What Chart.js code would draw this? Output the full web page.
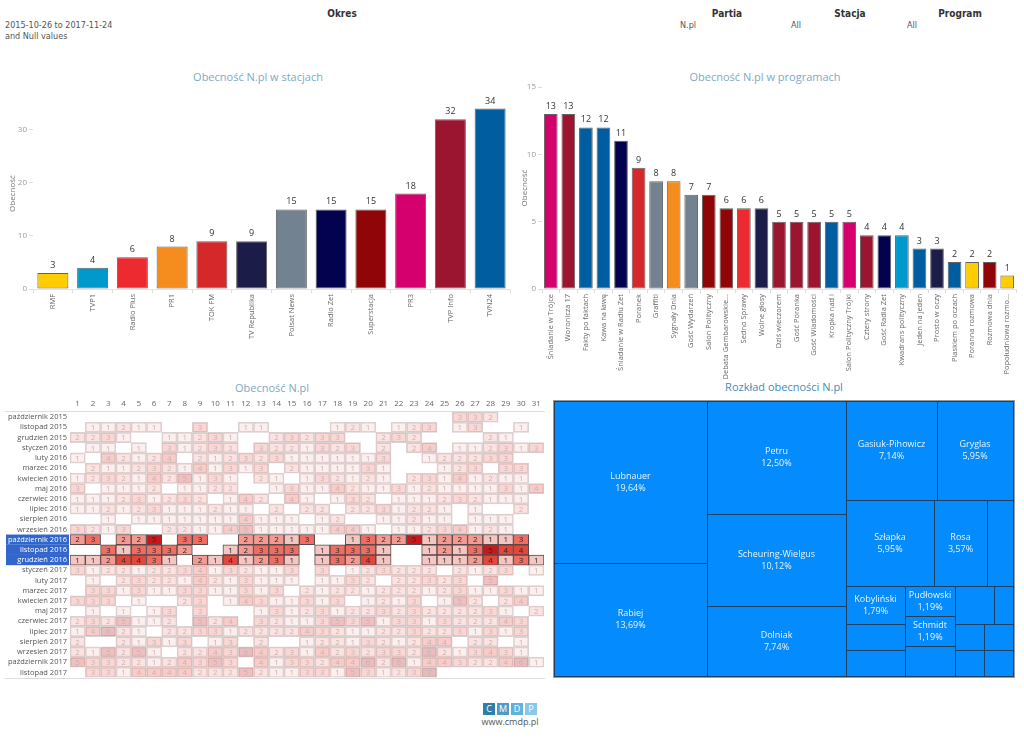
<!DOCTYPE html>
<html>
<head>
<meta charset="utf-8">
<script src="https://cdn.jsdelivr.net/npm/chart.js@4.4.0/dist/chart.umd.min.js"></script>
<style>
  body { margin:0; width:1024px; height:749px; background:#fff; overflow:hidden; position:relative; font-family:'Segoe UI','Open Sans',sans-serif; }
  canvas { position:absolute; }
  .t { position:absolute; white-space:nowrap; }
  .hdr { font-family:'Liberation Sans Narrow','DejaVu Sans Condensed','Open Sans',sans-serif; font-size:10px; font-weight:bold; color:#333; transform:translateX(-50%); }
  .sub { font-family:'Liberation Sans Narrow','DejaVu Sans Condensed','Open Sans',sans-serif; font-size:9px; color:#555; }
  .ttl { font-size:11px; color:#7ea9c4; transform:translateX(-50%); }
  .logo { display:flex; }
  .logo span { display:block; width:12px; height:12px; margin-right:2px; color:#fff; font-size:9px; text-align:center; line-height:12px; }
</style>
</head>
<body>
<div class="t hdr" style="left:342px;top:8px">Okres</div>
<div class="t sub" style="left:5px;top:20px">2015-10-26 to 2017-11-24</div>
<div class="t sub" style="left:5px;top:31px">and Null values</div>
<div class="t hdr" style="left:727px;top:8px">Partia</div>
<div class="t hdr" style="left:850px;top:8px">Stacja</div>
<div class="t hdr" style="left:960px;top:8px">Program</div>
<div class="t sub" style="left:680px;top:20px">N.pl</div>
<div class="t sub" style="left:791px;top:20px">All</div>
<div class="t sub" style="left:907px;top:20px">All</div>

<div class="t ttl" style="left:258px;top:69px">Obecność N.pl w stacjach</div>
<div class="t ttl" style="left:765px;top:69px">Obecność N.pl w programach</div>
<div class="t ttl" style="left:272px;top:380px">Obecność N.pl</div>
<div class="t ttl" style="left:784px;top:379px;color:#3f8db5">Rozkład obecności N.pl</div>

<canvas id="stations" width="520" height="320" style="left:0;top:60px"></canvas>
<canvas id="programs" width="504" height="320" style="left:520px;top:60px"></canvas>
<canvas id="heat" width="550" height="305" style="left:0;top:380px"></canvas>
<canvas id="tree" width="474" height="300" style="left:550px;top:380px"></canvas>

<div class="t logo" style="left:483px;top:703px"><span style="background:#2f7fa6">C</span><span style="background:#4b9cc6">M</span><span style="background:#62b2db">D</span><span style="background:#88c9ea">P</span></div>
<div class="t" style="left:510px;top:716px;transform:translateX(-50%);font-size:9px;line-height:12px;color:#555">www.cmdp.pl</div>

<script>
// stacje
var stations = ['RMF', 'TVP1', 'Radio Plus', 'PR1', 'TOK FM', 'TV Republika', 'Polsat News', 'Radio Zet', 'Superstacja', 'PR3', 'TVP Info', 'TVN24'];
var stationCounts = [3, 4, 6, 8, 9, 9, 15, 15, 15, 18, 32, 34];
var stationColors = ['#ffcc00', '#0099cc', '#ec2a2f', '#f48c1e', '#d4282a', '#1c1c48', '#738290', '#02024f', '#8f0508', '#d5006d', '#9c1530', '#005d9f'];

// programy
var programs = ['Śniadanie w Trójce', 'Woronicza 17', 'Fakty po faktach', 'Kawa na ławę', 'Śniadanie w Radiu Zet', 'Poranek', 'Graffiti', 'Sygnały Dnia', 'Gość Wydarzeń', 'Salon Polityczny', 'Debata Gembarowskie...', 'Sedno Sprawy', 'Wolne głosy', 'Dziś wieczorem', 'Gość Poranka', 'Gość Wiadomości', 'Kropka nad i', 'Salon Polityczny Trójki', 'Cztery strony', 'Gość Radia Zet', 'Kwadrans polityczny', 'Jeden na jeden', 'Prosto w oczy', 'Piaskiem po oczach', 'Poranna rozmowa', 'Rozmowa dnia', 'Popołudniowa rozmo...'];
var programCounts = [13, 13, 12, 12, 11, 9, 8, 8, 7, 7, 6, 6, 6, 5, 5, 5, 5, 5, 4, 4, 4, 3, 3, 2, 2, 2, 1];
var programColors = ['#d5006d', '#9c1530', '#005d9f', '#005d9f', '#02024f', '#d4282a', '#738290', '#f48c1e', '#738290', '#8f0508', '#8f0508', '#ec2a2f', '#1c1c48', '#9c1530', '#9c1530', '#9c1530', '#005d9f', '#d5006d', '#9c1530', '#02024f', '#0099cc', '#005d9f', '#1c1c48', '#005d9f', '#ffcc00', '#8f0508', '#ffcc00'];

// kalendarz
var months = ['październik 2015', 'listopad 2015', 'grudzień 2015', 'styczeń 2016', 'luty 2016', 'marzec 2016', 'kwiecień 2016', 'maj 2016', 'czerwiec 2016', 'lipiec 2016', 'sierpień 2016', 'wrzesień 2016', 'październik 2016', 'listopad 2016', 'grudzień 2016', 'styczeń 2017', 'luty 2017', 'marzec 2017', 'kwiecień 2017', 'maj 2017', 'czerwiec 2017', 'lipiec 2017', 'sierpień 2017', 'wrzesień 2017', 'październik 2017', 'listopad 2017'];
var days = [1,2,3,4,5,6,7,8,9,10,11,12,13,14,15,16,17,18,19,20,21,22,23,24,25,26,27,28,29,30,31];
var selectedRows = [12, 13, 14];
var cellCounts = [
  [0,0,0,0,0,0,0,0,0,0, 0,0,0,0,0,0,0,0,0,0, 0,0,0,0,0,3,3,2,0,0,0],
  [0,1,1,2,1,1,0,0,3,0, 0,1,1,0,0,0,0,1,2,1, 0,1,2,3,0,1,3,0,0,1,0],
  [2,2,3,1,0,0,1,1,2,3, 1,0,0,2,3,2,3,3,0,0, 2,3,2,0,0,0,0,2,1,0,0],
  [0,1,1,0,1,0,3,1,2,3, 2,0,3,2,2,1,3,2,3,0, 2,0,2,4,0,1,1,2,3,1,3],
  [1,0,4,2,1,2,4,0,2,1, 2,3,2,3,1,1,1,1,1,1, 3,0,0,1,2,2,2,3,3,0,0],
  [0,2,1,1,2,3,2,1,4,1, 3,1,3,0,2,1,1,1,1,3, 1,0,0,0,1,2,3,0,3,3,0],
  [1,2,3,2,1,4,2,5,1,3, 1,0,2,1,0,1,3,2,1,2, 1,0,2,3,1,4,1,2,1,1,0],
  [3,0,1,1,1,2,0,1,1,2, 2,0,0,1,3,1,1,4,2,1, 1,3,1,2,1,1,1,1,3,1,4],
  [1,1,1,2,3,1,2,3,2,0, 1,4,2,0,4,1,0,1,3,2, 0,1,1,1,2,3,2,1,1,1,0],
  [1,1,2,1,2,3,1,1,1,2, 1,1,0,2,0,2,2,0,2,2, 3,1,2,2,1,0,1,0,0,2,0],
  [0,0,1,0,1,1,1,1,1,1, 1,4,1,1,1,0,1,2,0,0, 1,1,2,1,1,0,1,1,1,0,0],
  [3,2,1,3,0,0,2,2,1,1, 4,5,1,1,1,1,1,4,4,1, 0,1,1,2,3,4,1,2,1,0,0],
  [2,3,0,2,2,5,0,3,3,0, 0,2,2,2,1,3,0,0,1,3, 2,2,5,1,2,2,2,1,1,3,0],
  [0,0,3,1,3,3,3,2,0,0, 1,2,3,3,3,0,1,3,3,3, 1,0,0,1,2,1,3,5,4,4,0],
  [1,1,2,4,4,3,1,0,2,1, 4,1,2,3,1,0,1,3,2,4, 1,0,0,1,1,1,2,4,1,3,1],
  [3,1,2,2,1,2,2,3,4,1, 3,2,1,1,3,0,3,0,1,2, 3,2,2,2,0,2,1,2,3,0,1],
  [0,1,0,2,3,2,2,1,4,2, 1,3,1,1,1,0,1,1,3,2, 0,2,2,3,2,3,0,5,0,0,0],
  [0,3,3,1,3,1,1,3,3,1, 1,3,1,3,0,2,1,2,2,1, 2,2,2,1,2,3,1,1,3,1,1],
  [3,3,3,0,1,0,0,2,3,0, 1,4,3,1,1,3,1,3,0,1, 2,1,3,0,1,5,2,0,2,4,0],
  [0,1,0,1,0,1,3,0,3,0, 0,0,1,3,1,2,3,1,2,2, 3,2,3,2,2,2,2,3,1,0,2],
  [2,3,2,5,1,1,2,0,5,2, 4,0,3,2,1,1,3,5,3,5, 1,3,3,1,3,2,2,2,4,3,0],
  [1,4,6,2,1,0,2,2,3,3, 1,2,2,2,2,4,3,2,1,1, 2,2,3,2,2,3,1,3,1,3,0],
  [2,0,0,2,1,3,1,3,0,1, 3,0,2,0,0,1,2,2,1,3, 2,1,2,4,4,0,2,2,0,1,0],
  [2,1,5,2,5,1,0,2,2,4, 3,6,4,2,3,1,4,2,3,2, 3,3,2,6,2,1,3,4,3,1,0],
  [5,3,3,2,2,1,2,4,3,5, 3,0,4,1,3,3,2,4,4,6, 2,6,1,4,4,3,2,2,4,6,1],
  [0,3,3,1,4,4,4,4,2,2, 2,5,2,1,1,3,3,1,5,3, 1,2,3,7,0,0,0,0,0,0,0]
];
var heatColors = ['#ffffff', '#f3c6c2', '#f39a92', '#ee6e63', '#e2473c', '#c9181c', '#b21019', '#990a12'];

// treemap (posłowie)
var treeNames = ['Lubnauer', 'Rabiej', 'Petru', 'Scheuring-Wielgus', 'Dolniak', 'Gasiuk-Pihowicz', 'Gryglas', 'Szłapka', 'Rosa', '', 'Kobyliński', '', '', 'Pudłowski', 'Schmidt', '', '', '', '', '', '', ''];
var treeCounts = [33, 23, 21, 17, 13, 12, 10, 10, 6, 3, 3, 2, 2, 2, 2, 2, 2, 1, 1, 1, 1, 1];
var treeGroups = [[0, 1], [2, 3, 4], [[5, 6], [7, 8, 9], [[10, 11, 12], [13, 14, 15], [[16, 17], [[18, 19], [20, 21]]]]]];

var FONT = "'Segoe UI', 'Open Sans', sans-serif";
Chart.defaults.font.family = FONT;
Chart.defaults.animation = false;

var valueLabels = {
  id: 'valueLabels',
  afterDatasetsDraw: function(chart) {
    var ctx = chart.ctx;
    var meta = chart.getDatasetMeta(0);
    var data = chart.data.datasets[0].data;
    ctx.save();
    ctx.font = '9px ' + FONT;
    ctx.fillStyle = '#333';
    ctx.textAlign = 'center';
    ctx.textBaseline = 'bottom';
    meta.data.forEach(function(el, i) { ctx.fillText(data[i], el.x, el.y - 3); });
    ctx.restore();
  }
};

function barChart(id, labels, values, colors, yMax, step, plotTop, yWidth, rightPad) {
  return new Chart(document.getElementById(id), {
    type: 'bar',
    data: {
      labels: labels,
      datasets: [{
        data: values,
        backgroundColor: colors,
        borderColor: 'rgba(45,45,45,0.75)',
        borderWidth: 1,
        borderSkipped: false,
        barPercentage: 0.78,
        categoryPercentage: 1
      }]
    },
    options: {
      responsive: false,
      devicePixelRatio: 1,
      layout: { padding: { top: plotTop, right: rightPad } },
      plugins: { legend: { display: false }, tooltip: { enabled: false } },
      scales: {
        x: {
          grid: { drawOnChartArea: false, offset: true, tickLength: 4, color: '#ddd' },
          border: { color: '#e4e4e4' },
          ticks: { minRotation: 90, maxRotation: 90, autoSkip: false, color: '#666', font: { size: 7.5 }, padding: 1 },
          afterFit: function(s) { s.height = 91; }
        },
        y: {
          min: 0, max: yMax,
          afterBuildTicks: function(s) { s.ticks = s.ticks.filter(function(t) { return t.value % step === 0; }); },
          ticks: { stepSize: step, color: '#999', font: { size: 8 }, padding: 2 },
          grid: { drawOnChartArea: false, tickLength: 4, color: '#ddd' },
          border: { display: false },
          title: { display: true, text: 'Obecność', color: '#777', font: { size: 8 }, padding: { top: yWidth > 30 ? 8 : 0, bottom: 0 } },
          afterFit: function(s) { s.width = yWidth; }
        }
      }
    },
    plugins: [valueLabels]
  });
}

barChart('stations', stations, stationCounts, stationColors, 36, 10, 38, 33, 10);
barChart('programs', programs, programCounts, programColors, 15, 5, 27, 22, 8);

// heatmap
function isSel(i) { return selectedRows.indexOf(i) >= 0; }
function cellColor(row, d) {
  var n = cellCounts[row][d - 1];
  var c = heatColors[Math.min(n, heatColors.length - 1)];
  if (isSel(row)) return c;
  var r = parseInt(c.substr(1, 2), 16), g = parseInt(c.substr(3, 2), 16), b = parseInt(c.substr(5, 2), 16);
  return 'rgba(' + r + ',' + g + ',' + b + ',0.28)';
}

var heatDecor = {
  id: 'heatDecor',
  beforeDraw: function(chart) {
    var ctx = chart.ctx, y = chart.scales.y, area = chart.chartArea;
    var h = y.height / months.length;
    ctx.save();
    ctx.fillStyle = '#3366cc';
    selectedRows.forEach(function(i) {
      var py = y.getPixelForValue(i);
      ctx.fillRect(6, py - h / 2, area.left - 7, h);
    });
    ctx.restore();
  },
  afterDraw: function(chart) {
    var ctx = chart.ctx, area = chart.chartArea;
    ctx.save();
    ctx.strokeStyle = '#ddd';
    ctx.lineWidth = 1;
    ctx.beginPath();
    ctx.moveTo(5, Math.round(area.top) - 0.5); ctx.lineTo(area.right + 1, Math.round(area.top) - 0.5);
    ctx.moveTo(5, Math.round(area.bottom) + 0.5); ctx.lineTo(area.right + 1, Math.round(area.bottom) + 0.5);
    ctx.stroke();
    ctx.restore();
  },
  afterDatasetsDraw: function(chart) {
    var ctx = chart.ctx;
    ctx.save();
    ctx.font = '8px ' + FONT;
    ctx.textAlign = 'center';
    ctx.textBaseline = 'middle';
    chart.data.datasets.forEach(function(ds, di) {
      var d = days[di];
      chart.getDatasetMeta(di).data.forEach(function(el, row) {
        var n = cellCounts[row][d - 1];
        if (!n) return;
        ctx.fillStyle = isSel(row) ? '#2a2a2a' : '#c4b4b4';
        ctx.fillText(n, (el.x + el.base) / 2, el.y + 0.5);
      });
    });
    ctx.restore();
  }
};

new Chart(document.getElementById('heat'), {
  type: 'bar',
  data: {
    labels: months,
    datasets: days.map(function(d) {
      return {
        data: cellCounts.map(function(row) { return row[d - 1] ? [d - 1, d] : null; }),
        backgroundColor: function(c) { return cellColor(c.dataIndex, d); },
        borderColor: function(c) { return isSel(c.dataIndex) ? '#5a4848' : '#dad2d2'; },
        borderWidth: 1,
        borderSkipped: false,
        grouped: false,
        barPercentage: 1,
        categoryPercentage: 1
      };
    })
  },
  options: {
    indexAxis: 'y',
    responsive: false,
    devicePixelRatio: 1,
    layout: { padding: { right: 6, bottom: 7 } },
    plugins: { legend: { display: false }, tooltip: { enabled: false } },
    scales: {
      x: {
        type: 'linear', position: 'top', min: 0, max: 31,
        afterBuildTicks: function(s) { s.ticks = days.map(function(d) { return { value: d - 0.5 }; }); },
        ticks: { autoSkip: false, maxRotation: 0, color: '#666', font: { size: 8 }, padding: 3, callback: function(v) { return v + 0.5; } },
        grid: { display: false, drawTicks: false },
        border: { display: false },
        afterFit: function(s) { s.height = 32; }
      },
      y: {
        ticks: { autoSkip: false, font: { size: 7.5 }, padding: 3, color: function(c) { return isSel(c.index) ? '#fff' : '#555'; } },
        grid: { display: false, drawTicks: false },
        border: { display: false },
        afterFit: function(s) { s.width = 70; }
      }
    }
  },
  plugins: [heatDecor]
});

// treemap
function nodeSum(n) {
  if (!Array.isArray(n)) return treeCounts[n];
  return n.reduce(function(a, c) { return a + nodeSum(c); }, 0);
}
function sliceLayout(node, x0, y0, x1, y1, depth, out) {
  if (!Array.isArray(node)) { out.push({ i: node, x0: x0, y0: y0, x1: x1, y1: y1 }); return; }
  var total = nodeSum(node);
  var pos = depth % 2 === 0 ? x0 : y0;
  node.forEach(function(c) {
    var f = nodeSum(c) / total;
    if (depth % 2 === 0) { var w = (x1 - x0) * f; sliceLayout(c, pos, y0, pos + w, y1, depth + 1, out); pos += w; }
    else { var h = (y1 - y0) * f; sliceLayout(c, x0, pos, x1, pos + h, depth + 1, out); pos += h; }
  });
}
var treeTotal = treeCounts.reduce(function(a, b) { return a + b; }, 0);

var treeDraw = {
  id: 'treeDraw',
  afterDatasetsDraw: function(chart) {
    var ctx = chart.ctx, xs = chart.scales.x, ys = chart.scales.y;
    var rects = [];
    sliceLayout(treeGroups, 0, 0, 1, 1, 0, rects);
    ctx.save();
    rects.forEach(function(r) {
      var px0 = Math.round(xs.getPixelForValue(r.x0)), px1 = Math.round(xs.getPixelForValue(r.x1));
      var py0 = Math.round(ys.getPixelForValue(r.y0)), py1 = Math.round(ys.getPixelForValue(r.y1));
      ctx.fillStyle = '#048bfd';
      ctx.fillRect(px0, py0, px1 - px0, py1 - py0);
      ctx.strokeStyle = '#223f5e';
      ctx.lineWidth = 1;
      ctx.strokeRect(px0 + 0.5, py0 + 0.5, px1 - px0, py1 - py0);
      var name = treeNames[r.i];
      if (name) {
        var pct = (treeCounts[r.i] / treeTotal * 100).toFixed(2).replace('.', ',') + '%';
        var cx = (px0 + px1) / 2, cy = (py0 + py1) / 2;
        ctx.fillStyle = '#eaf3ff';
        ctx.font = '9px ' + FONT;
        ctx.textAlign = 'center';
        ctx.textBaseline = 'middle';
        ctx.fillText(name, cx, cy - 6);
        ctx.fillText(pct, cx, cy + 6);
      }
    });
    var a = chart.chartArea;
    ctx.strokeStyle = '#999';
    ctx.strokeRect(Math.round(a.left) - 0.5, Math.round(a.top) - 0.5, Math.round(a.right - a.left) + 2, Math.round(a.bottom - a.top) + 2);
    ctx.restore();
  }
};

new Chart(document.getElementById('tree'), {
  type: 'scatter',
  data: { datasets: [{ data: [] }] },
  options: {
    responsive: false,
    devicePixelRatio: 1,
    layout: { padding: { left: 4, top: 21, right: 11, bottom: 4 } },
    plugins: { legend: { display: false }, tooltip: { enabled: false } },
    scales: {
      x: { type: 'linear', min: 0, max: 1, display: false },
      y: { type: 'linear', min: 0, max: 1, reverse: true, display: false }
    }
  },
  plugins: [treeDraw]
});
</script>
</body>
</html>
